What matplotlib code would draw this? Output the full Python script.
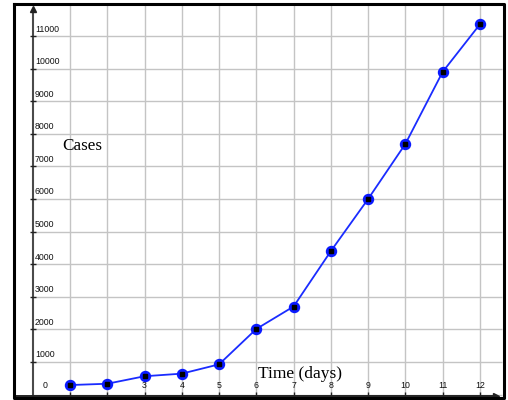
import matplotlib
matplotlib.use("Agg")
import matplotlib.pyplot as plt
from matplotlib.lines import Line2D

days = [1, 2, 3, 4, 5, 6, 7, 8, 9, 10, 11, 12]
cases = [290, 330, 560, 640, 925, 2010, 2700, 4400, 6000, 7690, 9900, 11360]
y_ticks = [1000, 2000, 3000, 4000, 5000, 6000, 7000, 8000, 9000, 10000, 11000]
x_tick_labels = ["1", "2", "3", "4", "5", "6", "7", "8", "9", "10", "11", "12"]

W, H = 508, 400
fig = plt.figure(figsize=(W / 100, H / 100), dpi=100)
ax = fig.add_axes([0, 0, 1, 1])

# pixel mapping helpers (only for frame layout)
x0px, dxpx = 32.7, 37.27
y0px, dypx = 394.5, 0.03259
def px2x(p):
    return (p - x0px) / dxpx
def px2y(p):
    return (y0px - p) / dypx

ax.set_xlim(px2x(0), px2x(W))
ax.set_ylim(px2y(H), px2y(0))
ax.axis("off")

grid_c = "#c4c4c4"
# vertical gridlines
ax.vlines(days, 0, px2y(5), colors=grid_c, lw=1.0, zorder=1)
# horizontal gridlines
ax.hlines([0] + y_ticks, 0, px2x(502), colors=grid_c, lw=1.0, zorder=1)

# axes lines
ax.plot([0, 0], [px2y(398), px2y(12)], color="#4a4a4a", lw=1.5, zorder=2)
ax.plot([px2x(14), px2x(494)], [px2y(396), px2y(396)], color="#222222", lw=1.4, zorder=2)
ax.plot([0], [px2y(9)], marker="^", color="#222222", ms=5, zorder=3)
ax.plot([px2x(496)], [px2y(396)], marker=">", color="#222222", ms=5, zorder=3)

# tick marks
ax.hlines(y_ticks, px2x(30), px2x(36), colors="#222222", lw=1.0, zorder=2)
ax.vlines(days, px2y(400), px2y(392), colors="#222222", lw=1.0, zorder=2)

# tick labels
tick_font = dict(family=["Liberation Sans", "DejaVu Sans"], fontsize=6.3, color="#111111")
for v in y_ticks:
    ax.text(px2x(35), v + 2.5 / dypx, str(v), ha="left", va="bottom", **tick_font)
ax.text(px2x(45.5), px2y(385), "0", ha="center", va="center", **tick_font)
for d, lab in zip(days, x_tick_labels):
    ax.text(d, px2y(385), lab, ha="center", va="center", zorder=2, **tick_font)

# axis titles
serif = ["Liberation Serif", "DejaVu Serif"]
ax.text(px2x(82), px2y(146), "Cases", family=serif, fontsize=12.3, ha="center", va="center", zorder=2)
ax.text(px2x(300), px2y(374), "Time (days)", family=serif, fontsize=12.5, ha="center", va="center", zorder=6)

# data
ax.plot(days, cases, color="#1a2cff", lw=1.3, zorder=4)
ax.plot(days, cases, ls="none", marker="o", ms=7.2, mfc="#0a1aff", mec="#0a1aff", zorder=5)
ax.plot(days, cases, ls="none", marker="s", ms=2.3, mfc="black", mec="black", zorder=5)

# outer frame
fig.add_artist(Line2D([14 / W, 504 / W, 504 / W, 14 / W, 14 / W],
                      [1 - 4 / H, 1 - 4 / H, 1 - 398 / H, 1 - 398 / H, 1 - 4 / H],
                      transform=fig.transFigure, color="black", lw=2.2))

fig.savefig("out.png", dpi=100)
